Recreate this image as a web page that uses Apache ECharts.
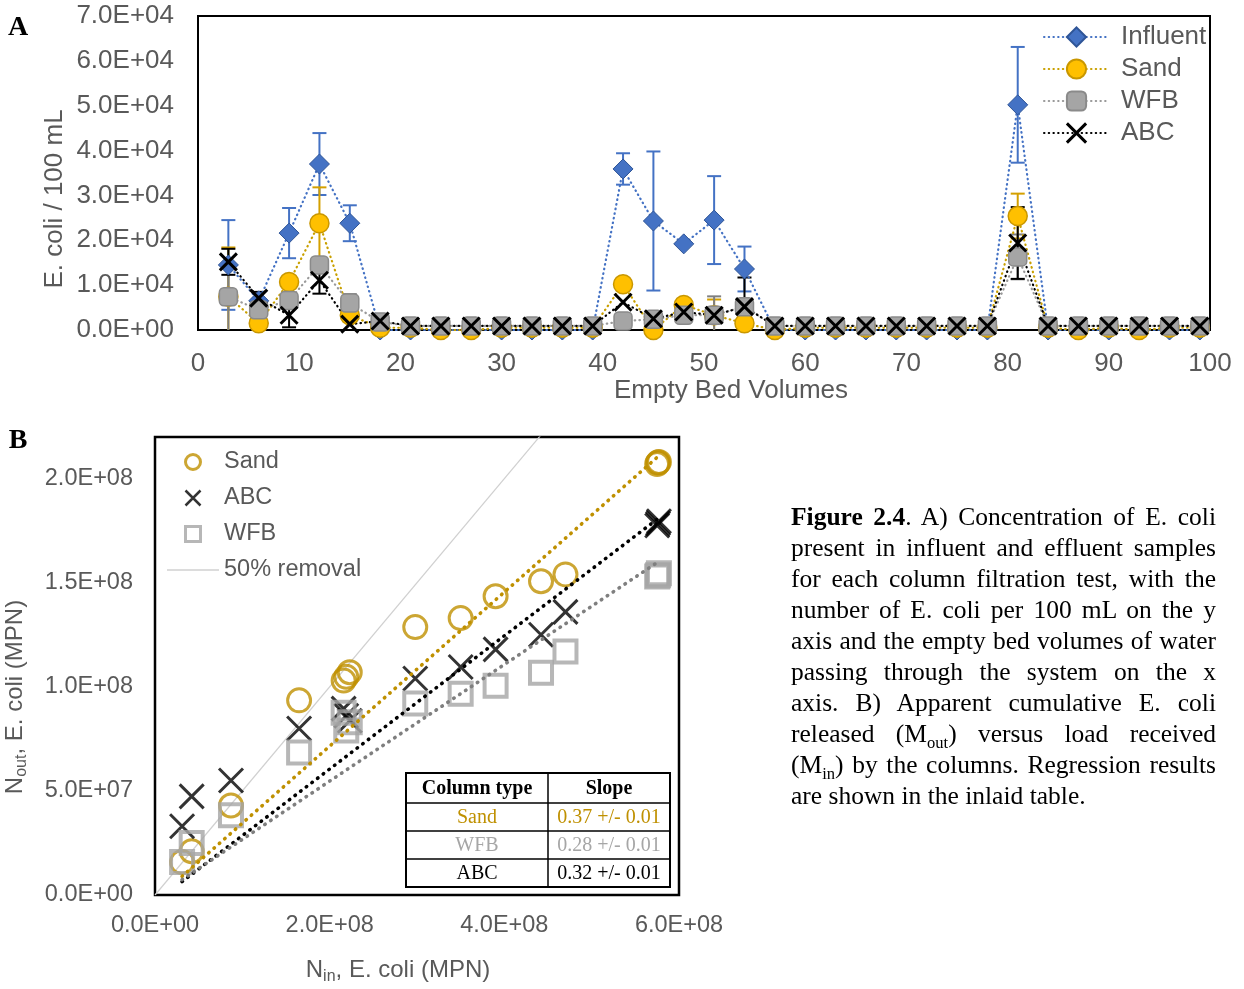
<!DOCTYPE html>
<html>
<head>
<meta charset="utf-8">
<script src="https://cdn.jsdelivr.net/npm/echarts@6/dist/echarts.min.js"></script>
<style>
  html, body { margin: 0; padding: 0; background: #fff; }
  #chart { position: absolute; left: 0; top: 0; width: 1244px; height: 989px; }
  #caption {
    position: absolute; left: 791px; top: 501px; width: 425px;
    font-family: "Liberation Serif", "Times New Roman", serif;
    font-size: 25.5px; line-height: 31px; color: #000;
  }
  #caption .ln { text-align: justify; text-align-last: justify; }
  #caption .ln.last { text-align-last: left; }
  #caption sub { font-size: 0.65em; line-height: 0; }
</style>
</head>
<body>
<div id="chart"></div>
<div id="caption">
  <div class="ln"><b>Figure 2.4</b>. A) Concentration of E. coli</div>
  <div class="ln">present in influent and effluent samples</div>
  <div class="ln">for each column filtration test, with the</div>
  <div class="ln">number of E. coli per 100 mL on the y</div>
  <div class="ln">axis and the empty bed volumes of water</div>
  <div class="ln">passing through the system on the x</div>
  <div class="ln">axis. B) Apparent cumulative E. coli</div>
  <div class="ln">released (M<sub>out</sub>) versus load received</div>
  <div class="ln">(M<sub>in</sub>) by the columns. Regression results</div>
  <div class="ln last">are shown in the inlaid table.</div>
</div>
<script>
// ---------- Panel A: E. coli per 100 mL vs empty bed volumes ----------
const ebv = [3, 6, 9, 12, 15, 18, 21, 24, 27, 30, 33, 36, 39, 42, 45, 48, 51,
             54, 57, 60, 63, 66, 69, 72, 75, 78, 81, 84, 87, 90, 93, 96, 99];

const influent    = [14500, 6500, 21600, 37000, 23800, 0, 0, 0, 0, 0, 0, 0, 0,
                     35900, 24300, 19200, 24500, 13600, 0, 0, 0, 0, 0, 0, 0, 0,
                     50200, 0, 0, 0, 0, 0, 0];
const influentErr = [10000, 0, 5600, 6900, 4000, 0, 0, 0, 0, 0, 0, 0, 0,
                     3500, 15500, 0, 9800, 5000, 0, 0, 0, 0, 0, 0, 0, 0,
                     12900, 0, 0, 0, 0, 0, 0];

const sand    = [7400, 1500, 10700, 23800, 3300, 500, 500, 0, 0, 500, 500, 500, 500,
                 10200, 0, 5600, 3300, 1500, 0, 500, 500, 500, 500, 500, 500, 500,
                 25400, 500, 0, 500, 0, 500, 500];
const sandErr = [11000, 0, 0, 8000, 0, 0, 0, 0, 0, 0, 0, 0, 0,
                 0, 0, 0, 3500, 0, 0, 0, 0, 0, 0, 0, 0, 0,
                 5000, 0, 0, 0, 0, 0, 0];

const wfb    = [7400, 4500, 6600, 14500, 6000, 1800, 900, 900, 900, 900, 900, 900, 900,
                2000, 2400, 3300, 3300, 5200, 900, 900, 900, 900, 900, 900, 900, 900,
                16300, 900, 900, 900, 900, 900, 900];
const wfbErr = [7400, 0, 0, 0, 2000, 0, 0, 0, 0, 0, 0, 0, 0,
                0, 0, 0, 4200, 0, 0, 0, 0, 0, 0, 0, 0, 0,
                5000, 0, 0, 0, 0, 0, 0];

const abc    = [15200, 7100, 3300, 11100, 1300, 2000, 900, 900, 900, 900, 900, 900, 900,
                6200, 2500, 4000, 3300, 5200, 900, 900, 900, 900, 900, 900, 900, 900,
                19400, 900, 900, 900, 900, 900, 900];
const abcErr = [2900, 1400, 2700, 3000, 0, 0, 0, 0, 0, 0, 0, 0, 0,
                0, 0, 0, 0, 6500, 0, 0, 0, 0, 0, 0, 0, 0,
                8000, 0, 0, 0, 0, 0, 0];

const ebvTicks = [0, 10, 20, 30, 40, 50, 60, 70, 80, 90, 100];

// ---------- Panel B: cumulative released vs load received (MPN) ----------
const nIn     = [0.31e8, 0.42e8, 0.87e8, 1.65e8, 2.16e8, 2.19e8, 2.23e8, 2.98e8,
                 3.50e8, 3.90e8, 4.42e8, 4.70e8, 5.75e8, 5.76e8, 5.77e8];
const sandOut = [0.158e8, 0.21e8, 0.43e8, 0.935e8, 1.03e8, 1.048e8, 1.07e8, 1.287e8,
                 1.33e8, 1.435e8, 1.507e8, 1.54e8, 2.07e8, 2.077e8, 2.08e8];
const abcOut  = [0.33e8, 0.474e8, 0.55e8, 0.80e8, 0.895e8, 0.861e8, 0.837e8, 1.04e8,
                 1.095e8, 1.18e8, 1.25e8, 1.36e8, 1.775e8, 1.785e8, 1.795e8];
const wfbOut  = [0.158e8, 0.25e8, 0.383e8, 0.684e8, 0.876e8, 0.79e8, 0.83e8, 0.92e8,
                 0.967e8, 1.005e8, 1.067e8, 1.17e8, 1.53e8, 1.536e8, 1.545e8];

// regression table (slope +/- standard error) and fitted intercepts
const columnTypes = ['Sand', 'WFB', 'ABC'];
const slopes      = [0.37, 0.28, 0.32];
const slopeErrs   = [0.01, 0.01, 0.01];
const intercepts  = [-2.5e6, -1.3e6, -3.5e6];
const removalRatio = 0.5;   // 50% removal reference line

// ---------- helpers ----------
const SANS = '"Liberation Sans", Arial, sans-serif';
const SERIF = '"Liberation Serif", "Times New Roman", serif';
const GREY_TXT = '#595959';
const GOLD = '#BF9000';
const CROSS = 'path://M0,0L10,10M10,0L0,10';
const SQUARE = 'path://M0,0H10V10H0Z';

function sci(v) {
  if (v === 0) return '0.0E+00';
  const e = Math.floor(Math.log10(Math.abs(v)) + 1e-9);
  const m = v / Math.pow(10, e);
  return m.toFixed(1) + 'E' + (e < 0 ? '-' : '+') + String(Math.abs(e)).padStart(2, '0');
}

function pairs(xs, ys) { return xs.map((x, i) => [x, ys[i]]); }

function errorSeries(vals, errs, color) {
  const data = ebv.map((x, i) => errs[i] > 0 ? [x, vals[i], errs[i]] : null).filter(Boolean);
  return {
    type: 'custom', xAxisIndex: 0, yAxisIndex: 0, z: 2, silent: true, clip: true,
    encode: { x: 0, y: 1 },
    data: data,
    renderItem: function (params, api) {
      const x = api.value(0), y = api.value(1), e = api.value(2);
      const lo = y - e;
      const top = api.coord([x, y + e]);
      const bot = api.coord([x, Math.max(lo, 0)]);
      const hw = 7;
      const st = { stroke: color, lineWidth: 2 };
      const kids = [
        { type: 'line', shape: { x1: top[0], y1: top[1], x2: bot[0], y2: bot[1] }, style: st },
        { type: 'line', shape: { x1: top[0] - hw, y1: top[1], x2: top[0] + hw, y2: top[1] }, style: st }
      ];
      if (lo > 0) {
        kids.push({ type: 'line', shape: { x1: bot[0] - hw, y1: bot[1], x2: bot[0] + hw, y2: bot[1] }, style: st });
      }
      return { type: 'group', children: kids };
    }
  };
}

function lineSeries(name, vals, symbol, size, itemStyle, lineColor) {
  return {
    type: 'line', name: name, xAxisIndex: 0, yAxisIndex: 0, z: 2,
    data: pairs(ebv, vals),
    symbol: symbol, symbolSize: size, showAllSymbol: true,
    itemStyle: itemStyle,
    lineStyle: { color: lineColor, width: 2.2, type: [0.5, 4.2], cap: 'round' },
    emphasis: { disabled: true }
  };
}

function trendSeries(k, color) {
  const src = [sandOut, wfbOut, abcOut][k];
  const xs = nIn.filter((v, i) => src[i] != null);
  const x0 = Math.min.apply(null, xs), x1 = Math.max.apply(null, xs);
  const f = x => slopes[k] * x + intercepts[k];
  return {
    type: 'line', name: columnTypes[k] + ' fit', xAxisIndex: 1, yAxisIndex: 1, z: 4,
    data: [[x0, f(x0)], [x1, f(x1)]], symbol: 'none', silent: true,
    lineStyle: { color: color, width: 3.6, type: [0.5, 6.6], cap: 'round' }
  };
}

// ---------- table on panel B (graphic) ----------
const tX = [406, 548, 670];
const tY = [773, 803, 831, 859, 887];
const rowColors = [GOLD, '#A6A6A6', '#000'];
const tableEls = [
  { type: 'rect', z: 50, shape: { x: tX[0], y: tY[0], width: tX[2] - tX[0], height: tY[4] - tY[0] },
    style: { fill: '#fff', stroke: '#000', lineWidth: 2 } },
  { type: 'line', z: 51, shape: { x1: tX[1], y1: tY[0], x2: tX[1], y2: tY[4] }, style: { stroke: '#000', lineWidth: 1.5 } }
];
for (let r = 1; r <= 3; r++) {
  tableEls.push({ type: 'line', z: 51, shape: { x1: tX[0], y1: tY[r], x2: tX[2], y2: tY[r] },
                  style: { stroke: '#000', lineWidth: 1.5 } });
}
tableEls.push(
  { type: 'text', z: 52, x: (tX[0] + tX[1]) / 2, y: (tY[0] + tY[1]) / 2 + 1,
    style: { text: 'Column type', font: 'bold 20px ' + SERIF, fill: '#000', align: 'center', verticalAlign: 'middle' } },
  { type: 'text', z: 52, x: (tX[1] + tX[2]) / 2, y: (tY[0] + tY[1]) / 2 + 1,
    style: { text: 'Slope', font: 'bold 20px ' + SERIF, fill: '#000', align: 'center', verticalAlign: 'middle' } }
);
columnTypes.forEach((c, k) => {
  const cy = (tY[k + 1] + tY[k + 2]) / 2 + 1;
  tableEls.push(
    { type: 'text', z: 52, x: (tX[0] + tX[1]) / 2, y: cy,
      style: { text: c, font: '20px ' + SERIF, fill: rowColors[k], align: 'center', verticalAlign: 'middle' } },
    { type: 'text', z: 52, x: (tX[1] + tX[2]) / 2, y: cy,
      style: { text: slopes[k].toFixed(2) + ' +/- ' + slopeErrs[k].toFixed(2),
               font: '20px ' + SERIF, fill: rowColors[k], align: 'center', verticalAlign: 'middle' } }
  );
});

// ---------- axis titles & panel letters ----------
const subRich = {
  n: { font: '24px ' + SANS, fill: GREY_TXT, lineHeight: 30 },
  s: { font: '16px ' + SANS, fill: GREY_TXT, lineHeight: 30, verticalAlign: 'bottom' }
};
const titleEls = [
  { type: 'text', x: 18, y: 28, style: { text: 'A', font: 'bold 28px ' + SERIF, fill: '#000', align: 'center', verticalAlign: 'middle' } },
  { type: 'text', x: 18, y: 441, style: { text: 'B', font: 'bold 28px ' + SERIF, fill: '#000', align: 'center', verticalAlign: 'middle' } },
  { type: 'text', x: 55, y: 199, rotation: Math.PI / 2,
    style: { text: 'E. coli / 100 mL', font: '26px ' + SANS, fill: GREY_TXT, align: 'center', verticalAlign: 'middle' } },
  { type: 'text', x: 731, y: 391,
    style: { text: 'Empty Bed Volumes', font: '26px ' + SANS, fill: GREY_TXT, align: 'center', verticalAlign: 'middle' } },
  { type: 'text', x: 15, y: 697, rotation: Math.PI / 2,
    style: { text: '{n|N}{s|out}{n|, E. coli (MPN)}', rich: subRich, align: 'center', verticalAlign: 'middle' } },
  { type: 'text', x: 398, y: 970,
    style: { text: '{n|N}{s|in}{n|, E. coli (MPN)}', rich: subRich, align: 'center', verticalAlign: 'middle' } }
];

// ---------- option ----------
const legendNamesB = { sandCum: 'Sand', abcCum: 'ABC', wfbCum: 'WFB', removal50: '50% removal' };

const option = {
  animation: false,
  backgroundColor: '#fff',
  textStyle: { fontFamily: SANS },
  grid: [
    { left: 198, top: 16, width: 1012, height: 314, show: true, borderColor: '#000', borderWidth: 2, containLabel: false },
    { left: 155, top: 437, width: 524, height: 458, show: true, borderColor: '#000', borderWidth: 2.5, containLabel: false }
  ],
  xAxis: [
    { type: 'value', gridIndex: 0, min: ebvTicks[0], max: ebvTicks[ebvTicks.length - 1], interval: 10,
      axisLine: { show: true, lineStyle: { color: '#000', width: 2 } }, axisTick: { show: false },
      splitLine: { show: false },
      axisLabel: { fontSize: 26, color: GREY_TXT, margin: 21, fontFamily: SANS } },
    { type: 'value', gridIndex: 1, min: 0, max: 6e8, interval: 2e8,
      axisLine: { show: false }, axisTick: { show: false }, splitLine: { show: false },
      axisLabel: { fontSize: 23.5, color: GREY_TXT, margin: 19, fontFamily: SANS, formatter: sci } }
  ],
  yAxis: [
    { type: 'value', gridIndex: 0, min: 0, max: 70000, interval: 10000,
      axisLine: { show: true, lineStyle: { color: '#000', width: 2 } }, axisTick: { show: false },
      splitLine: { show: false },
      axisLabel: { fontSize: 26, color: GREY_TXT, margin: 24, fontFamily: SANS, formatter: sci,
                   padding: [3, 0, 0, 0] } },
    { type: 'value', gridIndex: 1, min: 0, max: 2.2e8, interval: 5e7,
      axisLine: { show: false }, axisTick: { show: false }, splitLine: { show: false },
      axisLabel: { fontSize: 23.5, color: GREY_TXT, margin: 22, fontFamily: SANS,
                   formatter: v => (Math.abs(Math.round(v / 5e7) * 5e7 - v) < 1 ? sci(v) : '') } }
  ],
  legend: [
    { orient: 'vertical', left: 1043, top: 22, padding: 0, itemWidth: 65, itemHeight: 24, itemGap: 2,
      textStyle: { fontSize: 26, color: GREY_TXT, lineHeight: 30, fontFamily: SANS, padding: [0, 0, 0, 7] },
      selectedMode: false,
      data: [
        { name: 'Influent' },
        { name: 'Sand' },
        { name: 'WFB' },
        { name: 'ABC', itemStyle: { color: 'rgba(0,0,0,0)', borderColor: '#000', borderWidth: 3 } }
      ] },
    { orient: 'vertical', left: 167, top: 449, padding: 0, itemWidth: 52, itemHeight: 15, itemGap: 10,
      textStyle: { fontSize: 23.5, color: GREY_TXT, lineHeight: 26, fontFamily: SANS },
      selectedMode: false,
      formatter: n => legendNamesB[n],
      data: [
        { name: 'sandCum', icon: 'circle', itemStyle: { color: 'rgba(0,0,0,0)', borderColor: GOLD, borderWidth: 3 } },
        { name: 'abcCum', icon: CROSS, itemStyle: { color: 'rgba(0,0,0,0)', borderColor: '#000', borderWidth: 2.5 } },
        { name: 'wfbCum', icon: SQUARE, itemStyle: { color: 'rgba(0,0,0,0)', borderColor: '#A5A5A5', borderWidth: 3 } },
        { name: 'removal50', icon: 'path://M0,0H52V1.3H0Z', itemStyle: { color: '#D0D0D0', borderWidth: 0 } }
      ] }
  ],
  graphic: { elements: titleEls.concat(tableEls) },
  series: [
    // Panel A
    errorSeries(influent, influentErr, '#4472C4'),
    lineSeries('Influent', influent, 'diamond', 20,
               { color: '#4472C4', borderColor: '#2F5597', borderWidth: 1 }, '#4472C4'),
    errorSeries(sand, sandErr, '#D4A000'),
    lineSeries('Sand', sand, 'circle', 19,
               { color: '#FFC000', borderColor: '#C99700', borderWidth: 1.5 }, '#C9A000'),
    errorSeries(wfb, wfbErr, '#7F7F7F'),
    lineSeries('WFB', wfb, 'roundRect', 18,
               { color: '#A5A5A5', borderColor: '#8A8A8A', borderWidth: 1.5 }, '#9A9A9A'),
    errorSeries(abc, abcErr, '#000'),
    lineSeries('ABC', abc, CROSS, 17,
               { color: 'rgba(0,0,0,0)', borderColor: '#000', borderWidth: 3 }, '#000'),

    // Panel B
    { type: 'line', name: 'removal50', xAxisIndex: 1, yAxisIndex: 1, z: 1, symbol: 'none', silent: true,
      data: [0, 6e8].map(x => [x, removalRatio * x]),
      lineStyle: { color: '#D0D0D0', width: 1.2 } },
    { type: 'scatter', name: 'sandCum', xAxisIndex: 1, yAxisIndex: 1, z: 3,
      data: pairs(nIn, sandOut), symbol: 'circle', symbolSize: 23,
      itemStyle: { color: 'rgba(0,0,0,0)', borderColor: GOLD, borderWidth: 3 }, emphasis: { disabled: true } },
    { type: 'scatter', name: 'abcCum', xAxisIndex: 1, yAxisIndex: 1, z: 3,
      data: pairs(nIn, abcOut), symbol: CROSS, symbolSize: 24,
      itemStyle: { color: 'rgba(0,0,0,0)', borderColor: '#000', borderWidth: 3 }, emphasis: { disabled: true } },
    { type: 'scatter', name: 'wfbCum', xAxisIndex: 1, yAxisIndex: 1, z: 3,
      data: pairs(nIn, wfbOut), symbol: 'rect', symbolSize: 22,
      itemStyle: { color: 'rgba(0,0,0,0)', borderColor: '#A5A5A5', borderWidth: 4 }, emphasis: { disabled: true } },
    trendSeries(0, GOLD),
    trendSeries(2, '#000'),
    trendSeries(1, '#7F7F7F')
  ]
};

const chart = echarts.init(document.getElementById('chart'), null, { renderer: 'canvas' });
chart.setOption(option);
</script>
</body>
</html>
